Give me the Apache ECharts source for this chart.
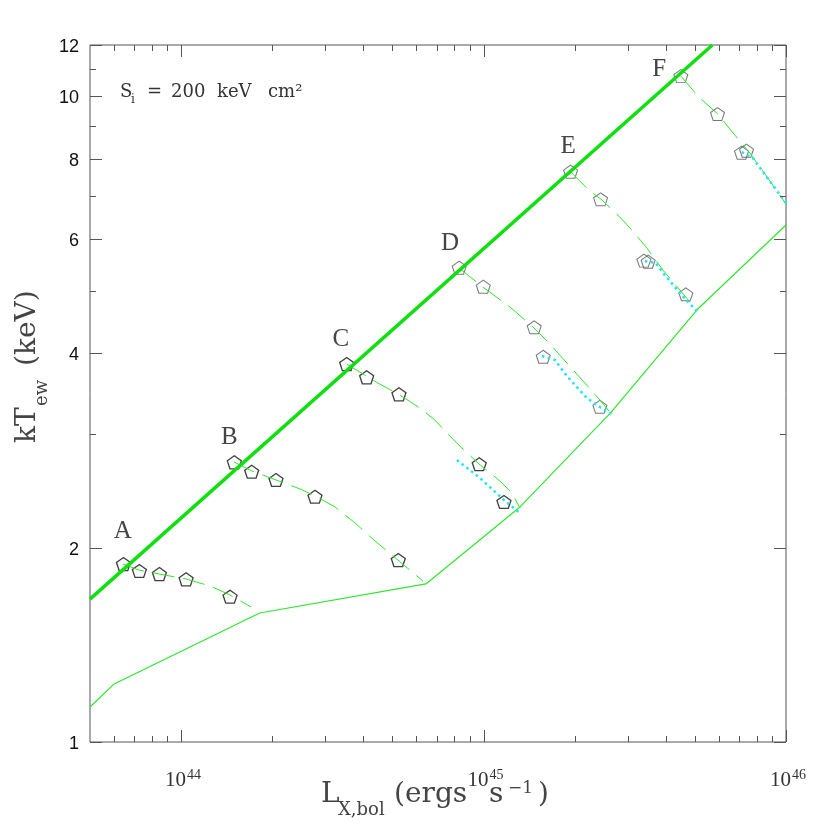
<!DOCTYPE html>
<html><head><meta charset="utf-8">
<script src="https://cdn.jsdelivr.net/npm/echarts@6/dist/echarts.min.js"></script>
<style>html,body{margin:0;padding:0;background:#fff}#c{width:830px;height:830px}</style>
</head><body><div id="c"></div>
<script>
// ---------- axis ticks and labels ----------
const xMajorTicks = [1e44, 1e45, 1e46];
const xMinorTicks = [6e43, 7e43, 8e43, 9e43, 2e44, 3e44, 4e44, 5e44, 6e44, 7e44, 8e44, 9e44,
                     2e45, 3e45, 4e45, 5e45, 6e45, 7e45, 8e45, 9e45];
const xLabelValues = [1e44, 1e45, 1e46];
const xLabelExps = ['44', '45', '46'];
const yMajorTicks = [1, 2, 4, 6, 8, 10, 12];
const yMinorTicks = [3, 5, 7, 9, 11];
const yTickLabels = ['1', '2', '4', '6', '8', '10', '12'];

// ---------- boundary lines ----------
const upperL = [5.0e43, 5.71e45];
const upperT = [1.664, 12.0];
const lowerL = [5.0e43, 6.01e43, 1.82e44, 6.45e44, 1.32e45, 2.63e45, 5.07e45, 1.0e46];
const lowerT = [1.133, 1.230, 1.584, 1.757, 2.312, 3.232, 4.665, 6.316];

// ---------- dashed evolutionary tracks ----------
const trackA_L = [6.43e43, 7.26e43, 8.46e43, 1.039e44, 1.247e44, 1.452e44, 1.704e44];
const trackA_T = [1.886, 1.846, 1.820, 1.788, 1.744, 1.689, 1.618];
const trackB_L = [1.498e44, 1.716e44, 2.060e44, 2.474e44, 2.772e44, 3.228e44, 3.758e44, 4.377e44, 5.213e44, 6.304e44];
const trackB_T = [2.713, 2.628, 2.545, 2.465, 2.404, 2.312, 2.184, 2.048, 1.913, 1.775];
const trackC_L = [3.53e44, 4.477e44, 5.293e44, 6.163e44, 6.910e44, 7.569e44, 8.356e44, 9.656e44, 1.133e45, 1.241e45, 1.319e45];
const trackC_T = [3.847, 3.596, 3.445, 3.289, 3.151, 3.008, 2.872, 2.695, 2.536, 2.430, 2.303];
const trackD_L = [8.293e44, 9.95e44, 1.223e45, 1.470e45, 1.658e45, 1.886e45, 2.163e45, 2.425e45, 2.63e45];
const trackD_T = [5.420, 5.064, 4.715, 4.375, 4.132, 3.862, 3.596, 3.384, 3.232];
const trackE_L = [1.945e45, 2.246e45, 2.443e45, 2.781e45, 3.094e45, 3.467e45, 3.916e45, 4.457e45, 5.07e45];
const trackE_T = [7.628, 7.130, 6.929, 6.545, 6.204, 5.820, 5.381, 5.010, 4.665];
const trackF_L = [4.491e45, 5.151e45, 5.951e45, 6.521e45, 7.594e45, 8.709e45, 1.0e46];
const trackF_T = [10.74, 9.968, 9.382, 8.894, 8.164, 7.467, 6.808];

// ---------- pentagon markers ----------
const markA_L = [6.45e43, 7.28e43, 8.48e43, 1.039e44, 1.452e44];
const markA_T = [1.886, 1.840, 1.820, 1.786, 1.679];
const markB_L = [1.500e44, 1.712e44, 2.060e44, 2.772e44, 5.225e44];
const markB_T = [2.710, 2.621, 2.545, 2.398, 1.913];
const markC_L = [3.529e44, 4.108e44, 5.253e44, 9.678e44, 1.168e45];
const markC_T = [3.847, 3.670, 3.454, 2.692, 2.353];
const markD_L = [8.312e44, 9.98e44, 1.471e45, 1.575e45, 2.425e45];
const markD_T = [5.425, 5.069, 4.386, 3.949, 3.304];
const markE_L = [1.940e45, 2.438e45, 3.390e45, 3.502e45, 4.665e45];
const markE_T = [7.638, 6.922, 5.563, 5.543, 4.933];
const markF_L = [4.491e45, 5.937e45, 7.129e45, 7.405e45];
const markF_T = [10.74, 9.382, 8.173, 8.232];

// ---------- cyan dotted segments ----------
const cyanC_L = [8.167e44, 9.730e44, 1.168e45, 1.319e45];
const cyanC_T = [2.733, 2.563, 2.370, 2.262];
const cyanD_L = [1.560e45, 1.722e45, 1.886e45, 2.196e45, 2.425e45, 2.657e45];
const cyanD_T = [3.959, 3.903, 3.687, 3.408, 3.301, 3.220];
const cyanE_L = [3.416e45, 3.713e45, 3.946e45, 4.457e45, 5.07e45];
const cyanE_T = [5.556, 5.516, 5.304, 4.957, 4.648];
const cyanF_L = [7.143e45, 7.770e45, 8.450e45, 1.0e46];
const cyanF_T = [8.194, 8.020, 7.601, 6.831];

// ---------- track labels ----------
const trackNames = ['A', 'B', 'C', 'D', 'E', 'F'];
const trackLabelL = [6.42e43, 1.444e44, 3.372e44, 7.745e44, 1.905e45, 3.807e45];
const trackLabelT = [2.117, 2.967, 4.202, 5.918, 8.351, 11.00];

const X_MIN = 5e43, X_MAX = 1e46, Y_MIN = 1, Y_MAX = 12;
const zip = (a, b) => a.map((v, i) => [v, b[i]]);
const crisp = v => Math.round(v) + 0.5;
const AX = '#555';
const GREEN = '#2fe62f';
const PENT = 'path://M0,-10L9.511,-3.09L5.878,8.09L-5.878,8.09L-9.511,-3.09Z';

function xTickSeries(vals, len) {
  return {
    type: 'custom', coordinateSystem: 'cartesian2d', silent: true, z: 10, clip: false,
    data: vals.map(v => [v, Y_MIN]),
    renderItem: (params, api) => {
      const v = api.value(0);
      const b = api.coord([v, Y_MIN]), t = api.coord([v, Y_MAX]);
      const x = crisp(b[0]);
      return { type: 'group', children: [
        { type: 'line', shape: { x1: x, y1: b[1], x2: x, y2: b[1] - len }, style: { stroke: AX, lineWidth: 1 } },
        { type: 'line', shape: { x1: x, y1: t[1], x2: x, y2: t[1] + len }, style: { stroke: AX, lineWidth: 1 } }
      ] };
    }
  };
}
function yTickSeries(vals, len) {
  return {
    type: 'custom', coordinateSystem: 'cartesian2d', silent: true, z: 10, clip: false,
    data: vals.map(v => [X_MIN, v]),
    renderItem: (params, api) => {
      const v = api.value(1);
      const l = api.coord([X_MIN, v]), r = api.coord([X_MAX, v]);
      const y = crisp(l[1]);
      return { type: 'group', children: [
        { type: 'line', shape: { x1: l[0], y1: y, x2: l[0] + len, y2: y }, style: { stroke: AX, lineWidth: 1 } },
        { type: 'line', shape: { x1: r[0], y1: y, x2: r[0] - len, y2: y }, style: { stroke: AX, lineWidth: 1 } }
      ] };
    }
  };
}
function txt(text, size, family, fill, align, valign) {
  return { text, font: size + 'px "' + family + '"', fontSize: size, fontFamily: family, fill,
           align, verticalAlign: valign, textAlign: align, textVerticalAlign: valign };
}
function dashedTrack(L, T) {
  return { type: 'line', data: zip(L, T), showSymbol: false, symbol: 'none', silent: true, z: 3,
           lineStyle: { color: GREEN, width: 1, type: [22, 9] } };
}
function cyanSeg(L, T) {
  return { type: 'line', data: zip(L, T), showSymbol: false, symbol: 'none', silent: true, z: 4,
           lineStyle: { color: '#22e2f2', width: 2.5, type: [2.5, 3.5], cap: 'butt' } };
}
function markers(L, T, color, w) {
  return { type: 'scatter', data: zip(L, T), symbol: PENT, symbolSize: [14, 13], silent: true, z: 2,
           itemStyle: { color: 'rgba(0,0,0,0)', borderColor: color, borderWidth: w } };
}

const series = [
  markers(markA_L, markA_T, '#111', 1.3),
  markers(markB_L, markB_T, '#111', 1.3),
  markers(markC_L, markC_T, '#111', 1.3),
  markers(markD_L, markD_T, '#555', 1),
  markers(markE_L, markE_T, '#555', 1),
  markers(markF_L, markF_T, '#555', 1),
  dashedTrack(trackA_L, trackA_T), dashedTrack(trackB_L, trackB_T), dashedTrack(trackC_L, trackC_T),
  dashedTrack(trackD_L, trackD_T), dashedTrack(trackE_L, trackE_T), dashedTrack(trackF_L, trackF_T),
  cyanSeg(cyanC_L, cyanC_T), cyanSeg(cyanD_L, cyanD_T), cyanSeg(cyanE_L, cyanE_T), cyanSeg(cyanF_L, cyanF_T),
  { type: 'line', data: zip(lowerL, lowerT), showSymbol: false, symbol: 'none', silent: true, z: 3,
    lineStyle: { color: GREEN, width: 1.2 } },
  { type: 'line', data: zip(upperL, upperT), showSymbol: false, symbol: 'none', silent: true, z: 5,
    lineStyle: { color: '#0fdf0f', width: 3.5 } },
  xTickSeries(xMajorTicks, 12), xTickSeries(xMinorTicks, 6),
  yTickSeries(yMajorTicks, 12), yTickSeries(yMinorTicks, 6),
  { // y tick labels
    type: 'custom', coordinateSystem: 'cartesian2d', silent: true, z: 10, clip: false,
    data: yMajorTicks.map((v, i) => [X_MIN, v, i]),
    renderItem: (params, api) => {
      const p = api.coord([X_MIN, api.value(1)]);
      return { type: 'text', x: p[0] - 11, y: p[1] + 2,
               style: txt(yTickLabels[params.dataIndex], 18, 'Liberation Sans', '#111', 'right', 'middle') };
    }
  },
  { // x tick labels: "10" part
    type: 'custom', coordinateSystem: 'cartesian2d', silent: true, z: 10, clip: false,
    data: xLabelValues.map(v => [v, Y_MIN]),
    renderItem: (params, api) => {
      const p = api.coord([api.value(0), Y_MIN]);
      return { type: 'text', x: p[0] + 5, y: p[1] + 38, style: txt('10', 21, 'Liberation Serif', '#333', 'right', 'middle') };
    }
  },
  { // x tick labels: exponent part
    type: 'custom', coordinateSystem: 'cartesian2d', silent: true, z: 10, clip: false,
    data: xLabelValues.map(v => [v, Y_MIN]),
    renderItem: (params, api) => {
      const p = api.coord([api.value(0), Y_MIN]);
      return { type: 'text', x: p[0] + 6, y: p[1] + 33, style: txt(xLabelExps[params.dataIndex], 14, 'Liberation Serif', '#333', 'left', 'middle') };
    }
  },
  { // track letters
    type: 'custom', coordinateSystem: 'cartesian2d', silent: true, z: 10, clip: false,
    data: zip(trackLabelL, trackLabelT),
    renderItem: (params, api) => {
      const p = api.coord([api.value(0), api.value(1)]);
      return { type: 'text', x: p[0], y: p[1],
               style: txt(trackNames[params.dataIndex], 25, 'Liberation Serif', '#444', 'center', 'middle') };
    }
  }
];

const SERIF = 'DejaVu Serif';
const TC = '#444';
const graphic = [
  // x-axis title
  { type: 'text', x: 321, y: 795, style: txt('L', 28, SERIF, TC, 'left', 'middle') },
  { type: 'text', x: 338, y: 810, style: txt('X,bol', 18, SERIF, TC, 'left', 'middle') },
  { type: 'text', x: 394, y: 795, style: txt('(ergs', 28, SERIF, TC, 'left', 'middle') },
  { type: 'text', x: 489, y: 795, style: txt('s', 28, SERIF, TC, 'left', 'middle') },
  { type: 'text', x: 508, y: 789, style: txt('\u22121', 17, SERIF, TC, 'left', 'middle') },
  { type: 'text', x: 538, y: 795, style: txt(')', 28, SERIF, TC, 'left', 'middle') },
  // y-axis title (rotated)
  { type: 'text', x: 28, y: 443, rotation: Math.PI / 2, style: txt('kT', 28, SERIF, TC, 'left', 'middle') },
  { type: 'text', x: 42, y: 406, rotation: Math.PI / 2, style: txt('ew', 18, SERIF, TC, 'left', 'middle') },
  { type: 'text', x: 28, y: 366, rotation: Math.PI / 2, style: txt('(keV)', 28, SERIF, TC, 'left', 'middle') },
  // annotation
  { type: 'text', x: 120, y: 92, style: txt('S', 18, SERIF, '#333', 'left', 'middle') },
  { type: 'text', x: 131, y: 100, style: txt('i', 12, SERIF, '#333', 'left', 'middle') },
  { type: 'text', x: 147, y: 92, style: txt('=', 18, SERIF, '#333', 'left', 'middle') },
  { type: 'text', x: 171, y: 92, style: txt('200', 18, SERIF, '#333', 'left', 'middle') },
  { type: 'text', x: 217, y: 92, style: txt('keV', 18, SERIF, '#333', 'left', 'middle') },
  { type: 'text', x: 268, y: 92, style: txt('cm\u00b2', 18, SERIF, '#333', 'left', 'middle') }
];

const chart = echarts.init(document.getElementById('c'), null, { renderer: 'canvas' });
chart.setOption({
  animation: false,
  backgroundColor: '#fff',
  grid: { left: 90, right: 44, top: 45, bottom: 88, show: true, borderColor: AX, borderWidth: 1,
          backgroundColor: 'transparent' },
  xAxis: { type: 'log', logBase: 10, min: X_MIN, max: X_MAX,
           axisLine: { show: false }, axisTick: { show: false }, axisLabel: { show: false }, splitLine: { show: false } },
  yAxis: { type: 'log', logBase: 10, min: Y_MIN, max: Y_MAX,
           axisLine: { show: false }, axisTick: { show: false }, axisLabel: { show: false }, splitLine: { show: false } },
  series,
  graphic
});
</script></body></html>
